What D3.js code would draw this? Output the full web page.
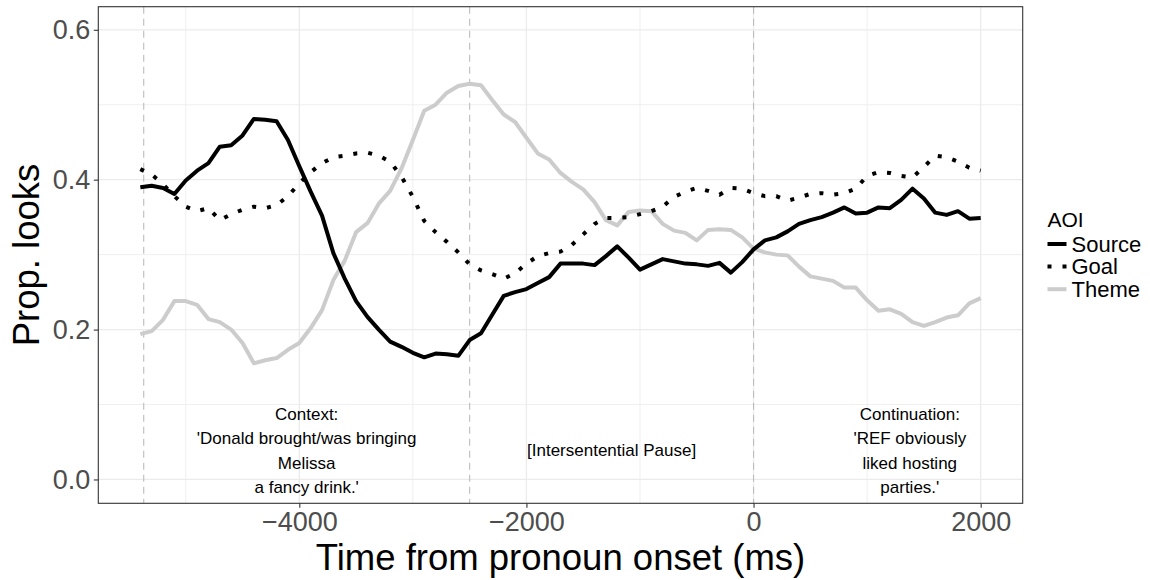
<!DOCTYPE html>
<html>
<head>
<meta charset="utf-8">
<script src="https://d3js.org/d3.v7.min.js"></script>
<style>
  html, body { margin: 0; padding: 0; background: #ffffff; }
  svg { display: block; font-family: "Liberation Sans", Arial, Helvetica, sans-serif; }
</style>
</head>
<body>
<svg id="chart" width="1150" height="580"></svg>
<script>
// ---------------- data ----------------
const times = [
  -5400, -5300, -5200, -5100, -5000, -4900, -4800, -4700, -4600, -4500,
  -4400, -4300, -4200, -4100, -4000, -3900, -3800, -3700, -3600, -3500,
  -3400, -3300, -3200, -3100, -3000, -2900, -2800, -2700, -2600, -2500,
  -2400, -2300, -2200, -2100, -2000, -1900, -1800, -1700, -1600, -1500,
  -1400, -1300, -1200, -1100, -1000, -900, -800, -700, -600, -500,
  -400, -300, -200, -100, 0, 100, 200, 300, 400, 500,
  600, 700, 800, 900, 1000, 1100, 1200, 1300, 1400, 1500,
  1600, 1700, 1800, 1900, 2000
];
const sourceVals = [
  0.390, 0.392, 0.389, 0.381, 0.399, 0.412, 0.422, 0.444, 0.446, 0.459,
  0.481, 0.480, 0.478, 0.453, 0.418, 0.384, 0.352, 0.302, 0.268, 0.238,
  0.217, 0.200, 0.184, 0.177, 0.169, 0.163, 0.168, 0.167, 0.165, 0.186,
  0.195, 0.220, 0.245, 0.250, 0.254, 0.262, 0.270, 0.288, 0.288, 0.288,
  0.286, 0.298, 0.311, 0.296, 0.280, 0.287, 0.294, 0.291, 0.288, 0.287,
  0.285, 0.289, 0.276, 0.290, 0.307, 0.319, 0.323, 0.331, 0.341, 0.346,
  0.350, 0.356, 0.363, 0.355, 0.356, 0.363, 0.362, 0.373, 0.388, 0.375,
  0.356, 0.353, 0.358, 0.348, 0.349
];
const goalVals = [
  0.414, 0.407, 0.394, 0.378, 0.364, 0.358, 0.362, 0.346, 0.354, 0.360,
  0.364, 0.362, 0.366, 0.378, 0.395, 0.410, 0.422, 0.430, 0.432, 0.435,
  0.436, 0.432, 0.424, 0.404, 0.377, 0.345, 0.330, 0.317, 0.303, 0.287,
  0.279, 0.274, 0.268, 0.275, 0.288, 0.298, 0.302, 0.304, 0.313, 0.327,
  0.341, 0.349, 0.349, 0.350, 0.354, 0.358, 0.364, 0.377, 0.384, 0.389,
  0.385, 0.380, 0.389, 0.388, 0.382, 0.378, 0.378, 0.372, 0.376, 0.381,
  0.382, 0.380, 0.382, 0.388, 0.405, 0.410, 0.409, 0.405, 0.403, 0.417,
  0.432, 0.430, 0.424, 0.416, 0.412
];
const themeVals = [
  0.194, 0.198, 0.213, 0.238, 0.238, 0.233, 0.214, 0.210, 0.200, 0.182,
  0.155, 0.159, 0.162, 0.173, 0.182, 0.202, 0.226, 0.266, 0.292, 0.330,
  0.342, 0.368, 0.385, 0.415, 0.453, 0.492, 0.500, 0.516, 0.525, 0.528,
  0.526, 0.506, 0.487, 0.477, 0.456, 0.435, 0.427, 0.409, 0.397, 0.387,
  0.370, 0.346, 0.339, 0.357, 0.359, 0.358, 0.341, 0.332, 0.329, 0.319,
  0.333, 0.334, 0.333, 0.323, 0.308, 0.303, 0.300, 0.299, 0.284, 0.271,
  0.268, 0.265, 0.256, 0.256, 0.239, 0.225, 0.227, 0.221, 0.210, 0.205,
  0.210, 0.216, 0.219, 0.235, 0.242
];
const seriesNames = ["Source", "Goal", "Theme"];
const xTicks = [-4000, -2000, 0, 2000];
const xTickLabels = ["\u22124000", "\u22122000", "0", "2000"];
const xMinor = [-5000, -3000, -1000, 1000];
const yTicks = [0.0, 0.2, 0.4, 0.6];
const yTickLabels = ["0.0", "0.2", "0.4", "0.6"];
const yMinor = [0.1, 0.3, 0.5];
const vlineTimes = [-5370, -2500, 0];
const annotationTimes = [-3935, -1250, 1376];
const annotationTexts = [
  ["Context:", "'Donald brought/was bringing", "Melissa", "a fancy drink.'"],
  ["[Intersentential Pause]"],
  ["Continuation:", "'REF obviously", "liked hosting", "parties.'"]
];
const annotationY = 0.038;
const xTitle = "Time from pronoun onset (ms)";
const yTitle = "Prop. looks";
const legendTitle = "AOI";

// ---------------- styles ----------------
const styles = {
  Source: { color: "#000000", dash: null },
  Goal:   { color: "#000000", dash: "4 11" },
  Theme:  { color: "#cccccc", dash: null }
};
const valuesBy = { Source: sourceVals, Goal: goalVals, Theme: themeVals };

// ---------------- layout ----------------
const svg = d3.select("#chart");
const P = { left: 98.3, right: 1022.7, top: 6.7, bottom: 503.3 };

const x = d3.scaleLinear().domain([-5770, 2370]).range([P.left, P.right]);
const y = d3.scaleLinear().domain([-0.0318, 0.6308]).range([P.bottom, P.top]);

svg.append("rect").attr("width", 1150).attr("height", 580).attr("fill", "#fff");

// grid
const grid = svg.append("g");
grid.selectAll("line.xmin").data(xMinor).join("line")
  .attr("x1", d => x(d)).attr("x2", d => x(d)).attr("y1", P.top).attr("y2", P.bottom)
  .attr("stroke", "#ebebeb").attr("stroke-width", 0.8);
grid.selectAll("line.ymin").data(yMinor).join("line")
  .attr("y1", d => y(d)).attr("y2", d => y(d)).attr("x1", P.left).attr("x2", P.right)
  .attr("stroke", "#ebebeb").attr("stroke-width", 0.8);
grid.selectAll("line.xmaj").data(xTicks).join("line")
  .attr("x1", d => x(d)).attr("x2", d => x(d)).attr("y1", P.top).attr("y2", P.bottom)
  .attr("stroke", "#ebebeb").attr("stroke-width", 1.3);
grid.selectAll("line.ymaj").data(yTicks).join("line")
  .attr("y1", d => y(d)).attr("y2", d => y(d)).attr("x1", P.left).attr("x2", P.right)
  .attr("stroke", "#ebebeb").attr("stroke-width", 1.3);

// vertical dashed lines
svg.append("g").selectAll("line").data(vlineTimes).join("line")
  .attr("x1", d => x(d)).attr("x2", d => x(d)).attr("y1", P.top).attr("y2", P.bottom)
  .attr("stroke", "#bdbdbd").attr("stroke-width", 1.1).attr("stroke-dasharray", "7 5");

// annotations
const ann = svg.append("g").attr("font-size", 17).attr("fill", "#000");
annotationTexts.forEach((lines, i) => {
  const cx = x(annotationTimes[i]);
  const cy = y(annotationY);
  const lh = 24.6;
  const y0 = cy - (lines.length - 1) * lh / 2;
  lines.forEach((t, j) => {
    ann.append("text").attr("x", cx).attr("y", y0 + j * lh)
      .attr("text-anchor", "middle").attr("dominant-baseline", "central").text(t);
  });
});

// lines
const lineGen = d3.line().x(d => x(d.t)).y(d => y(d.v));
const drawOrder = ["Theme", "Goal", "Source"];
drawOrder.forEach(name => {
  const data = times.map((t, i) => ({ t, v: valuesBy[name][i] }));
  svg.append("path").datum(data)
    .attr("d", lineGen)
    .attr("fill", "none")
    .attr("stroke", styles[name].color)
    .attr("stroke-width", 4)
    .attr("stroke-linejoin", "round")
    .attr("stroke-linecap", "butt")
    .attr("stroke-dasharray", styles[name].dash);
});

// panel border
svg.append("rect").attr("x", P.left).attr("y", P.top)
  .attr("width", P.right - P.left).attr("height", P.bottom - P.top)
  .attr("fill", "none").attr("stroke", "#333333").attr("stroke-width", 1.1);

// axes
const xAxis = d3.axisBottom(x).tickValues(xTicks).tickFormat((d, i) => xTickLabels[i])
  .tickSize(4.5).tickPadding(4);
const gx = svg.append("g").attr("transform", `translate(0,${P.bottom})`).call(xAxis);
gx.select(".domain").remove();
gx.selectAll(".tick line").attr("stroke", "#333333").attr("stroke-width", 1.1);
gx.selectAll(".tick text").attr("fill", "#4d4d4d").attr("font-size", 27)
  .attr("font-family", "Liberation Sans, Arial, Helvetica, sans-serif");

const yAxis = d3.axisLeft(y).tickValues(yTicks).tickFormat((d, i) => yTickLabels[i])
  .tickSize(4.5).tickPadding(3.5);
const gy = svg.append("g").attr("transform", `translate(${P.left},0)`).call(yAxis);
gy.select(".domain").remove();
gy.selectAll(".tick line").attr("stroke", "#333333").attr("stroke-width", 1.1);
gy.selectAll(".tick text").attr("fill", "#4d4d4d").attr("font-size", 27)
  .attr("font-family", "Liberation Sans, Arial, Helvetica, sans-serif");

// titles
svg.append("text").attr("x", (P.left + P.right) / 2).attr("y", 570)
  .attr("text-anchor", "middle").attr("font-size", 36.5).attr("fill", "#000").text(xTitle);
svg.append("text")
  .attr("transform", `translate(39,${(P.top + P.bottom) / 2}) rotate(-90)`)
  .attr("text-anchor", "middle").attr("font-size", 36.5).attr("fill", "#000").text(yTitle);

// legend
const lg = svg.append("g").attr("transform", "translate(1047.5,0)");
lg.append("text").attr("x", 0).attr("y", 219.5).attr("dominant-baseline", "central")
  .attr("font-size", 21).attr("fill", "#000").text(legendTitle);
seriesNames.forEach((name, i) => {
  const cy = 244 + i * 22.6;
  lg.append("line").attr("x1", 0).attr("x2", 19).attr("y1", cy).attr("y2", cy)
    .attr("stroke", styles[name].color).attr("stroke-width", 4)
    .attr("stroke-dasharray", styles[name].dash);
  lg.append("text").attr("x", 24).attr("y", cy).attr("dominant-baseline", "central")
    .attr("font-size", 22).attr("fill", "#000").text(name);
});
</script>
</body>
</html>
